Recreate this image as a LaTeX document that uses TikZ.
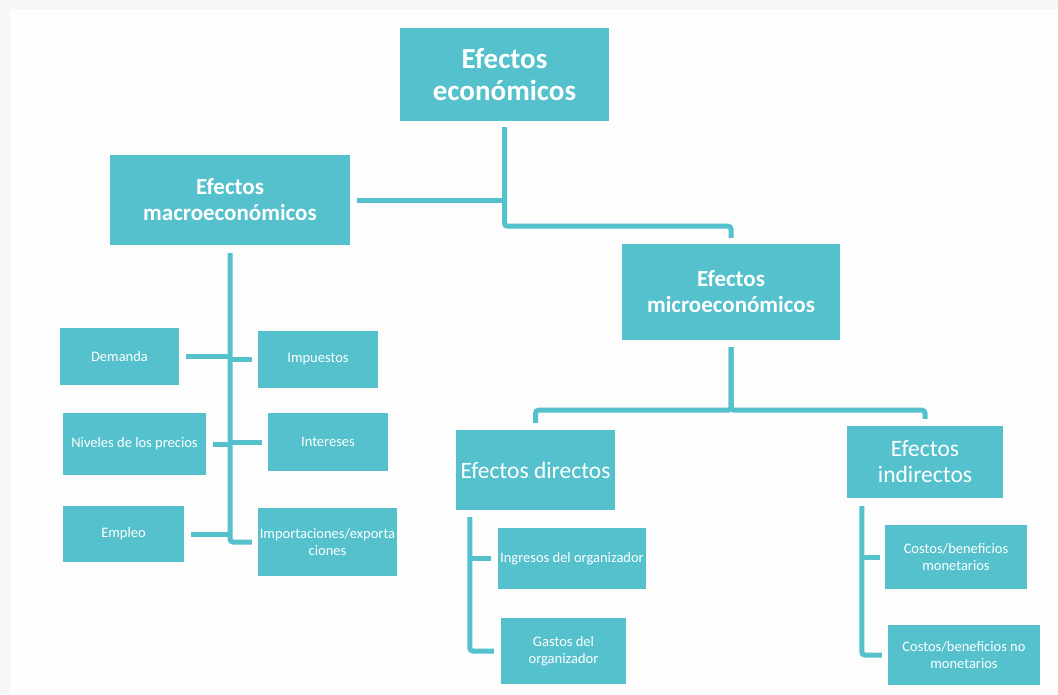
\documentclass[tikz,border=0pt]{standalone}
\usepackage{fontspec}
\setmainfont{Carlito}
\usepackage{xcolor}
\usepackage{tikz}
\usetikzlibrary{calc}
\definecolor{efteal}{HTML}{54C1CC}
\definecolor{efpage}{HTML}{FDFDFD}
\definecolor{efrim}{HTML}{F6F6F6}
\tikzset{
  efroot/.style  = {rectangle, fill=efteal, text=white, align=center, inner sep=0pt,
                    font=\fontsize{29}{32}\selectfont\bfseries},
  efmain/.style  = {rectangle, fill=efteal, text=white, align=center, inner sep=0pt,
                    font=\fontsize{23}{26}\selectfont\bfseries},
  efsub/.style   = {rectangle, fill=efteal, text=white, align=center, inner sep=0pt,
                    font=\fontsize{23.5}{26}\selectfont},
  efleaf/.style  = {rectangle, fill=efteal, text=white, align=center, inner sep=0pt,
                    font=\fontsize{14.5}{16.5}\selectfont},
  eflink/.style  = {draw=efteal, line width=5pt, rounded corners=3pt},
}

\begin{document}
\begin{tikzpicture}[x=1pt, y=-1pt]
  \useasboundingbox (0,0) rectangle (1058,694);
  \fill[efrim] (0,0) rectangle (1058,694);
  \fill[efpage] (10,9) rectangle (1058,694);

  \node[efroot, minimum width=209pt, minimum height=93pt] (eco)   at (504.5,74.5) {Efectos\\económicos};
  \node[efmain, minimum width=240pt, minimum height=90pt] (macro) at (230,200)    {Efectos\\macroeconómicos};
  \node[efmain, minimum width=218pt, minimum height=96pt] (micro) at (731,292)    {Efectos\\microeconómicos};
  \node[efsub,  minimum width=159pt, minimum height=80pt] (dir)   at (535.5,470)  {Efectos directos};
  \node[efsub,  minimum width=156pt, minimum height=72pt] (indir) at (925,462)    {Efectos\\indirectos};

  \node[efleaf, minimum width=119pt, minimum height=57pt] (dem)    at (119.5,356.5) {Demanda};
  \node[efleaf, minimum width=120pt, minimum height=57pt] (imp)    at (318,359.5)   {Impuestos};
  \node[efleaf, minimum width=143pt, minimum height=62pt] (niv)    at (134.5,444)   {Niveles de los precios};
  \node[efleaf, minimum width=120pt, minimum height=58pt] (int)    at (328,442)     {Intereses};
  \node[efleaf, minimum width=121pt, minimum height=56pt] (emp)    at (123.5,534)   {Empleo};
  \node[efleaf, minimum width=139pt, minimum height=68pt] (impexp) at (327.5,542)   {Importaciones/exporta\\ciones};
  \node[efleaf, minimum width=148pt, minimum height=61pt] (ingr)   at (572,558.5)   {Ingresos del organizador};
  \node[efleaf, minimum width=125pt, minimum height=66pt] (gast)   at (563.5,651)   {Gastos del\\organizador};
  \node[efleaf, minimum width=142pt, minimum height=64pt] (cmon)   at (956,557)     {Costos/beneficios\\monetarios};
  \node[efleaf, minimum width=152pt, minimum height=60pt] (cnomon) at (964,655)     {Costos/beneficios no\\monetarios};

  \coordinate (dirtrunk) at ([xshift=14pt]dir.south west);
  \coordinate (indtrunk) at ([xshift=15pt]indir.south west);

  \draw[eflink, shorten <=6pt, shorten >=6pt] (eco.south) -- ++(0,105) -| (micro.north);
  \draw[eflink, shorten <=7pt] (macro.east) -- (macro.east -| eco.south);

  \draw[eflink, shorten <=8pt, shorten >=6pt] (macro.south) |- (impexp.west);
  \draw[eflink, shorten <=7pt] (dem.east) -- (dem.east -| macro.south);
  \draw[eflink, shorten <=6pt] (imp.west) -- (imp.west -| macro.south);
  \draw[eflink, shorten <=7pt] (niv.east) -- (niv.east -| macro.south);
  \draw[eflink, shorten <=6pt] (int.west) -- (int.west -| macro.south);
  \draw[eflink, shorten <=7pt] (emp.east) -- (emp.east -| macro.south);

  \draw[eflink, shorten <=7pt, shorten >=7pt] (micro.south) -- ++(0,70) -| (dir.north);
  \draw[eflink, shorten <=7pt, shorten >=7pt] (micro.south) -- ++(0,70) -| (indir.north);

  \draw[eflink, shorten <=7pt, shorten >=7pt] (dirtrunk) |- (gast.west);
  \draw[eflink, shorten <=7pt] (ingr.west) -- (ingr.west -| dirtrunk);
  \draw[eflink, shorten <=8pt, shorten >=6pt] (indtrunk) |- (cnomon.west);
  \draw[eflink, shorten <=5pt] (cmon.west) -- (cmon.west -| indtrunk);
\end{tikzpicture}
\end{document}
